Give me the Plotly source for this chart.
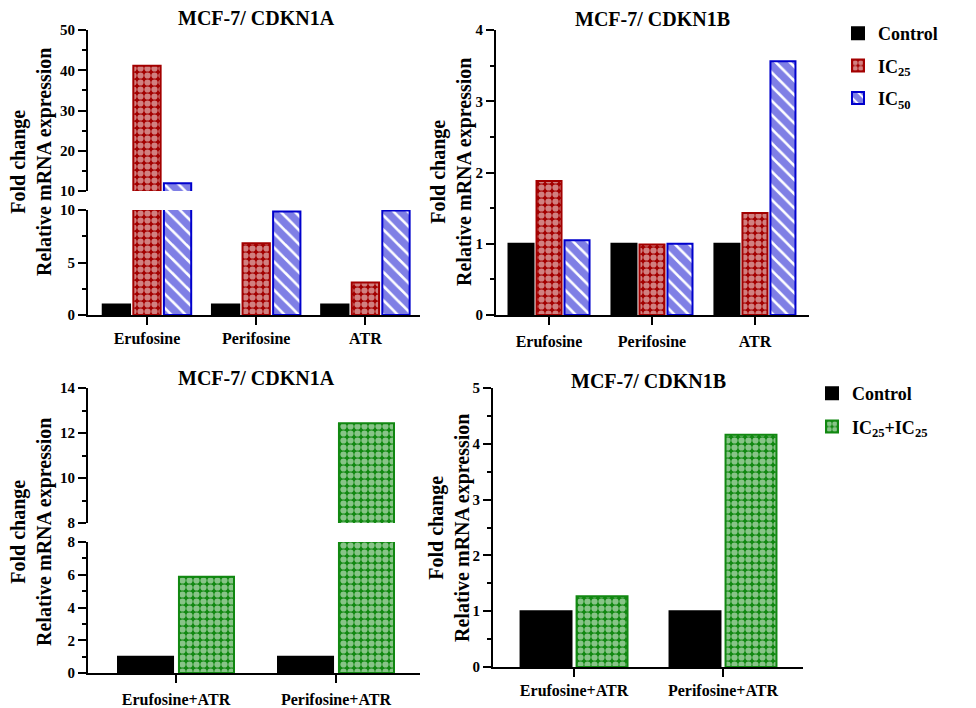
import plotly.graph_objects as go

# ---------------- data ----------------
cats_top = ["Erufosine", "Perifosine", "ATR"]
a_control = [1.0, 1.0, 1.0]
a_ic25 = [41.1, 6.83, 3.1]
a_ic50 = [11.9, 9.85, 9.95]

b_control = [1.0, 1.0, 1.0]
b_ic25 = [1.88, 0.99, 1.43]
b_ic50 = [1.05, 1.0, 3.56]

cats_bot = ["Erufosine+ATR", "Perifosine+ATR"]
c_control = [1.0, 1.0]
c_combo = [5.88, 12.43]

d_control = [1.0, 1.0]
d_combo = [1.27, 4.16]

W, H = 976, 708
FONT = "Liberation Serif"
RED, BLUE, GREEN = "#a30000", "#0000cc", "#118811"


def px_x(p):
    return p / W


def px_y(p):
    return 1 - p / H


def offsets(n, w, step):
    start = -((n - 1) * step + w) / 2
    return [start + i * step for i in range(n)]


def above(vals, lo):
    return [v if v > lo else None for v in vals]


def style(kind):
    if kind == "control":
        return dict(marker=dict(color="black", line=dict(color="black", width=2)))
    if kind == "ic25":
        return dict(marker=dict(color=RED, line=dict(color=RED, width=2),
                                pattern=dict(shape=".", fgcolor="white", bgcolor=RED,
                                             size=7, solidity=0.62)))
    if kind == "ic50":
        return dict(marker=dict(color="white", line=dict(color=BLUE, width=2),
                                pattern=dict(shape="\\", fgcolor=BLUE, bgcolor="white",
                                             size=10, solidity=0.75)))
    if kind == "combo":
        return dict(marker=dict(color=GREEN, line=dict(color=GREEN, width=2),
                                pattern=dict(shape=".", fgcolor="white", bgcolor=GREEN,
                                             size=7, solidity=0.62)))


fig = go.Figure()

# Panel A (broken axis: y lower 0-10, y2 upper 10-50)
oa = offsets(3, 0.25, 0.28)
series_a = [("Control", a_control, "control"), ("IC<sub>25</sub>", a_ic25, "ic25"),
            ("IC<sub>50</sub>", a_ic50, "ic50")]
for i, (name, vals, kind) in enumerate(series_a):
    fig.add_trace(go.Bar(x=cats_top, y=vals, name=name, xaxis="x", yaxis="y",
                         width=0.25, offset=oa[i], showlegend=True,
                         legend="legend", legendgroup="a%d" % i, **style(kind)))
    fig.add_trace(go.Bar(x=cats_top, y=above(vals, 10), name=name, xaxis="x", yaxis="y2",
                         width=0.25, offset=oa[i], showlegend=False, **style(kind)))

# Panel B
ob = offsets(3, 0.243, 0.272)
series_b = [("Control", b_control, "control"), ("IC<sub>25</sub>", b_ic25, "ic25"),
            ("IC<sub>50</sub>", b_ic50, "ic50")]
for i, (name, vals, kind) in enumerate(series_b):
    fig.add_trace(go.Bar(x=cats_top, y=vals, name=name, xaxis="x2", yaxis="y3",
                         width=0.243, offset=ob[i], showlegend=False, **style(kind)))

# Panel C (broken axis: y4 lower 0-8, y5 upper 8-14)
oc = offsets(2, 0.344, 0.381)
series_c = [("Control", c_control, "control"), ("IC<sub>25</sub>+IC<sub>25</sub>", c_combo, "combo")]
for i, (name, vals, kind) in enumerate(series_c):
    fig.add_trace(go.Bar(x=cats_bot, y=vals, name=name, xaxis="x3", yaxis="y4",
                         width=0.344, offset=oc[i], showlegend=True,
                         legend="legend2", legendgroup="c%d" % i, **style(kind)))
    fig.add_trace(go.Bar(x=cats_bot, y=above(vals, 8), name=name, xaxis="x3", yaxis="y5",
                         width=0.344, offset=oc[i], showlegend=False, **style(kind)))

# Panel D
od = offsets(2, 0.342, 0.376)
series_d = [("Control", d_control, "control"), ("IC<sub>25</sub>+IC<sub>25</sub>", d_combo, "combo")]
for i, (name, vals, kind) in enumerate(series_d):
    fig.add_trace(go.Bar(x=cats_bot, y=vals, name=name, xaxis="x4", yaxis="y6",
                         width=0.342, offset=od[i], showlegend=False, **style(kind)))

tickfont = dict(family=FONT, size=15, color="black", weight="bold")
catfont = dict(family=FONT, size=16, color="black", weight="bold")


def yax(domain_px, rng, dtick, minor, anchor):
    return dict(domain=[px_y(domain_px[1]), px_y(domain_px[0])], range=rng,
                dtick=dtick, tick0=0, showgrid=False, zeroline=False,
                showline=True, linecolor="black", linewidth=2,
                ticks="outside", ticklen=8, tickwidth=2, tickcolor="black",
                minor=dict(dtick=minor, ticks="outside", ticklen=4, tickwidth=2,
                           tickcolor="black", showgrid=False),
                tickfont=tickfont, anchor=anchor, fixedrange=True, automargin=False)


def xax(domain_px, rng, anchor, standoff):
    return dict(domain=[px_x(domain_px[0]), px_x(domain_px[1])], range=rng,
                type="category", showgrid=False, zeroline=False,
                showline=True, linecolor="black", linewidth=2,
                ticks="outside", ticklen=8, tickwidth=2, tickcolor="black",
                tickfont=catfont, anchor=anchor, ticklabelstandoff=standoff,
                fixedrange=True, automargin=False)


legfont = dict(family=FONT, size=18, color="black", weight="bold")
fig.update_layout(
    width=W, height=H,
    margin=dict(l=0, r=0, t=0, b=0, pad=0, autoexpand=False),
    paper_bgcolor="white", plot_bgcolor="white",
    barmode="overlay",
    xaxis=xax((88, 420), [-0.54, 2.5], "y", 0),
    yaxis=yax((210, 315), [0, 10], 5, 2.5, "x"),
    yaxis2=yax((30, 191), [10, 50], 10, 5, "x"),
    xaxis2=xax((496, 809), [-0.515, 2.525], "y3", 3),
    yaxis3=yax((30, 315), [0, 4], 1, 0.5, "x2"),
    xaxis3=xax((88, 420), [-0.55, 1.525], "y4", 3),
    yaxis4=yax((542, 673), [0, 8], 2, 1, "x3"),
    yaxis5=yax((388, 523), [8, 14], 2, 1, "x3"),
    xaxis4=xax((493, 803), [-0.544, 1.537], "y6", 0),
    yaxis6=yax((388, 667), [0, 5], 1, 0.5, "x4"),
    legend=dict(x=px_x(838), y=px_y(15), xanchor="left", yanchor="top",
                font=legfont, bgcolor="rgba(0,0,0,0)", tracegroupgap=6),
    legend2=dict(x=px_x(812), y=px_y(375), xanchor="left", yanchor="top",
                 font=legfont, bgcolor="rgba(0,0,0,0)", tracegroupgap=7),
)

titles = [("MCF-7/ CDKN1A", 256, 18), ("MCF-7/ CDKN1B", 652, 19),
          ("MCF-7/ CDKN1A", 256, 378), ("MCF-7/ CDKN1B", 648, 381)]
for text, x, y in titles:
    fig.add_annotation(text=text, x=px_x(x), y=px_y(y), xref="paper", yref="paper",
                       showarrow=False, xanchor="center", yanchor="middle",
                       font=dict(family=FONT, size=20, color="black", weight="bold"))

ytitles = [(31, 162), (451, 172), (31, 532), (449, 528)]
for x, y in ytitles:
    fig.add_annotation(text="Fold change<br>Relative mRNA expression",
                       x=px_x(x), y=px_y(y), xref="paper", yref="paper",
                       showarrow=False, textangle=-90, xanchor="center", yanchor="middle",
                       font=dict(family=FONT, size=20, color="black", weight="bold"))

fig.write_html("out.html")
